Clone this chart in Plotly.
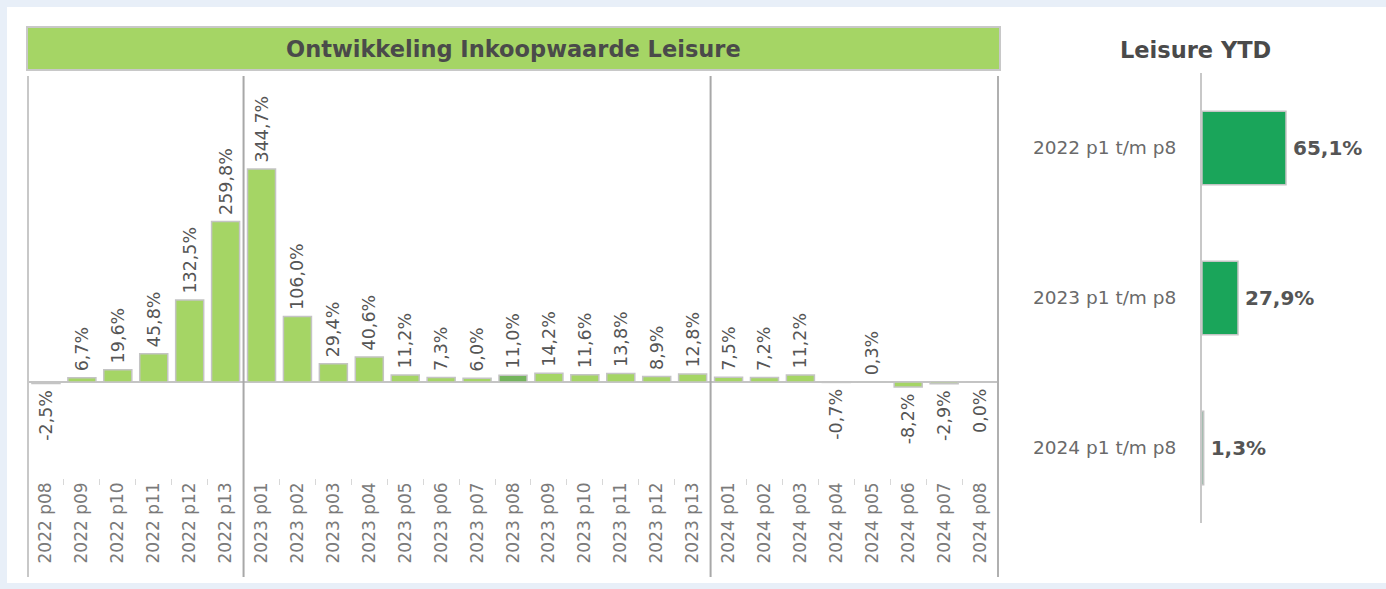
import plotly.graph_objects as go

W, H = 1386, 589

periods = ["2022 p08", "2022 p09", "2022 p10", "2022 p11", "2022 p12", "2022 p13",
           "2023 p01", "2023 p02", "2023 p03", "2023 p04", "2023 p05", "2023 p06", "2023 p07",
           "2023 p08", "2023 p09", "2023 p10", "2023 p11", "2023 p12", "2023 p13",
           "2024 p01", "2024 p02", "2024 p03", "2024 p04", "2024 p05", "2024 p06", "2024 p07", "2024 p08"]
growth = [-2.5, 6.7, 19.6, 45.8, 132.5, 259.8,
          344.7, 106.0, 29.4, 40.6, 11.2, 7.3, 6.0,
          11.0, 14.2, 11.6, 13.8, 8.9, 12.8,
          7.5, 7.2, 11.2, -0.7, 0.3, -8.2, -2.9, -0.04]
highlight_period = "2023 p08"

ytd_labels = ["2022 p1 t/m p8", "2023 p1 t/m p8", "2024 p1 t/m p8"]
ytd_values = [65.1, 27.9, 1.3]

main_title = "Ontwikkeling Inkoopwaarde Leisure"
side_title = "Leisure YTD"


def fmt(v):
    s = f"{v:.1f}"
    if s == "-0.0":
        s = "0.0"
    return s.replace(".", ",") + "%"


def bar_label(v):
    # small spacing between the bar end and the rotated label
    return "\u2009" + fmt(v) if v >= 0 else fmt(v) + "\u2009"


FONT = "DejaVu Sans"
LIGHT = "#a5d565"
DARK = "#74b45c"
YTD_GREEN = "#1aa55a"
OUTLINE = "#c4c4c4"


def px_x(p):
    return p / W


def px_y(p):
    return 1 - p / H


colors = [DARK if p == highlight_period else LIGHT for p in periods]

fig = go.Figure()
fig.add_trace(go.Bar(
    x=periods, y=growth, marker=dict(color=colors, line=dict(color=OUTLINE, width=1.5)),
    width=0.78, text=[bar_label(v) for v in growth], textposition="outside", textangle=-90,
    textfont=dict(family=FONT, size=17.5, color="#555555"), constraintext="none",
    cliponaxis=False, xaxis="x", yaxis="y", hoverinfo="x+y", showlegend=False))

fig.add_trace(go.Bar(
    y=ytd_labels, x=ytd_values, orientation="h",
    marker=dict(color=YTD_GREEN, line=dict(color=OUTLINE, width=1.5)),
    width=0.49, text=["\u2009" + fmt(v) for v in ytd_values], textposition="outside",
    textfont=dict(family=FONT, size=20, color="#555555", weight="bold"), constraintext="none",
    cliponaxis=False, xaxis="x2", yaxis="y2", hoverinfo="x+y", showlegend=False))

shapes = [
    # white panel
    dict(type="rect", xref="paper", yref="paper", x0=px_x(7), x1=1.0, y0=px_y(583), y1=px_y(7),
         fillcolor="white", line=dict(width=0), layer="below"),
    # title bar
    dict(type="rect", xref="paper", yref="paper", x0=px_x(27), x1=px_x(1000), y0=px_y(70), y1=px_y(27),
         fillcolor=LIGHT, line=dict(color="#c8c8c8", width=2), layer="below"),
]
# frame / separator lines on the main chart
for xpos, col in [(-0.5, "#c8c8c8"), (5.5, "#a8a8a8"), (18.5, "#a8a8a8"), (len(periods) - 0.5, "#b0b0b0")]:
    shapes.append(dict(type="line", xref="x", yref="paper", x0=xpos, x1=xpos,
                       y0=px_y(577), y1=px_y(76), line=dict(color=col, width=2), layer="above"))

annotations = [
    dict(text=f"<b>{main_title}</b>", xref="paper", yref="paper", x=px_x(513), y=px_y(49),
         showarrow=False, font=dict(family=FONT, size=22.5, color="#4a4a4a"), xanchor="center", yanchor="middle"),
    dict(text=f"<b>{side_title}</b>", xref="paper", yref="paper", x=px_x(1195), y=px_y(50),
         showarrow=False, font=dict(family=FONT, size=22.5, color="#4a4a4a"), xanchor="center", yanchor="middle"),
]

fig.update_layout(
    width=W, height=H, margin=dict(l=0, r=0, t=0, b=0),
    paper_bgcolor="#e8eff8", plot_bgcolor="rgba(0,0,0,0)",
    shapes=shapes, annotations=annotations, showlegend=False,
    xaxis=dict(domain=[px_x(27), px_x(999)], type="category", tickangle=-90,
               tickfont=dict(family=FONT, size=17, color="#7a7a7a"),
               ticks="outside", tickson="boundaries", ticklen=6, tickcolor="#d8d8d8", tickwidth=1,
               showline=False, showgrid=False, zeroline=False, fixedrange=True, anchor="y"),
    yaxis=dict(domain=[px_y(478), px_y(76)], range=[-155.4, 495.2], showticklabels=False,
               showgrid=False, zeroline=True, zerolinecolor="#c4c4c4", zerolinewidth=2,
               showline=False, ticks="", fixedrange=True, anchor="x"),
    xaxis2=dict(domain=[px_x(1202), px_x(1380)], range=[0, 138], showticklabels=False,
                showgrid=False, zeroline=False, showline=False, ticks="", anchor="y2", fixedrange=True),
    yaxis2=dict(domain=[px_y(523), px_y(73)], type="category", autorange="reversed",
                tickfont=dict(family=FONT, size=18.5, color="#6a6a6a"), ticks="",
                ticklabelstandoff=20, showline=True, linecolor="#c8c8c8", linewidth=2,
                showgrid=False, zeroline=False, anchor="x2", fixedrange=True),
)

fig.write_html("out.html", config={"displayModeBar": False},
               post_script="document.body.style.margin='0px';")
